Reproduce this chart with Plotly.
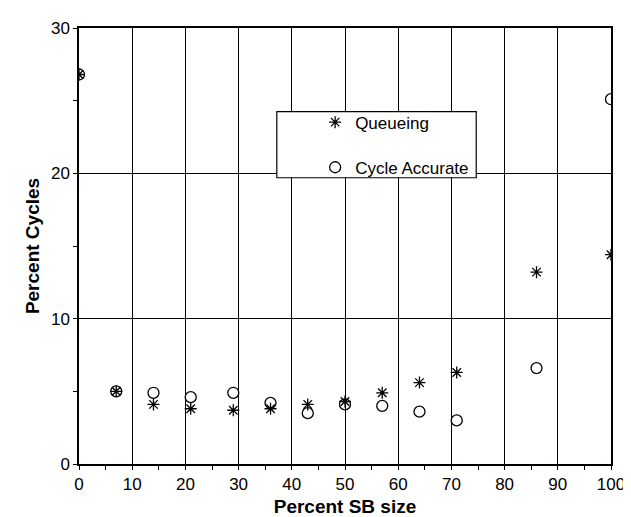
import plotly.graph_objects as go

sb_size = [0, 7, 14, 21, 29, 36, 43, 50, 57, 64, 71, 86, 100]
queueing = [26.8, 5.0, 4.1, 3.8, 3.7, 3.8, 4.1, 4.3, 4.9, 5.6, 6.3, 13.2, 14.4]
cycle_accurate = [26.8, 5.0, 4.9, 4.6, 4.9, 4.2, 3.5, 4.1, 4.0, 3.6, 3.0, 6.6, 25.1]

FONT = "Liberation Sans, Arial, sans-serif"

fig = go.Figure()
fig.add_trace(go.Scatter(
    x=sb_size, y=queueing, mode="markers", name="Queueing", legendgroup="q",
    marker=dict(symbol="asterisk-open", size=10, color="black",
                line=dict(color="black", width=1.3)),
))
fig.add_trace(go.Scatter(
    x=sb_size, y=cycle_accurate, mode="markers", name="Cycle Accurate", legendgroup="c",
    marker=dict(symbol="circle-open", size=11, color="black",
                line=dict(color="black", width=1.3)),
))

axis_common = dict(
    showline=True, linecolor="black", linewidth=1.5, mirror=True,
    showgrid=True, gridcolor="black", gridwidth=1,
    ticks="outside", ticklen=4, tickcolor="black", tickwidth=1,
    zeroline=False,
    tickfont=dict(family=FONT, size=17, color="black"),
    minor=dict(dtick=5, ticks="outside", ticklen=4, tickcolor="black", showgrid=False),
)

fig.update_layout(
    width=631, height=517,
    margin=dict(l=71, r=28, t=11, b=55),
    paper_bgcolor="white", plot_bgcolor="white",
    showlegend=True,
    legend=dict(
        x=(307 - 71) / 531.7, y=(462 - 90) / 451.3, xanchor="left", yanchor="top",
        bgcolor="rgba(0,0,0,0)", borderwidth=0,
        tracegroupgap=20,
        font=dict(family=FONT, size=17, color="black"),
    ),
    xaxis=dict(range=[0, 100], dtick=10, tick0=0,
               title=dict(text="<b>Percent SB size</b>", standoff=7,
                          font=dict(family=FONT, size=19, color="black")),
               **axis_common),
    yaxis=dict(range=[0, 30], dtick=10, tick0=0,
               title=dict(text="<b>Percent Cycles</b>", standoff=6,
                          font=dict(family=FONT, size=19, color="black")),
               **axis_common),
    shapes=[dict(type="rect", xref="paper", yref="paper",
                 x0=(268.7 - 71) / 531.7, x1=(468 - 71) / 531.7,
                 y0=(462 - 165.7) / 451.3, y1=(462 - 97.3) / 451.3,
                 fillcolor="white", line=dict(color="black", width=1.2),
                 layer="above")],
)
fig.write_html("out.html")
